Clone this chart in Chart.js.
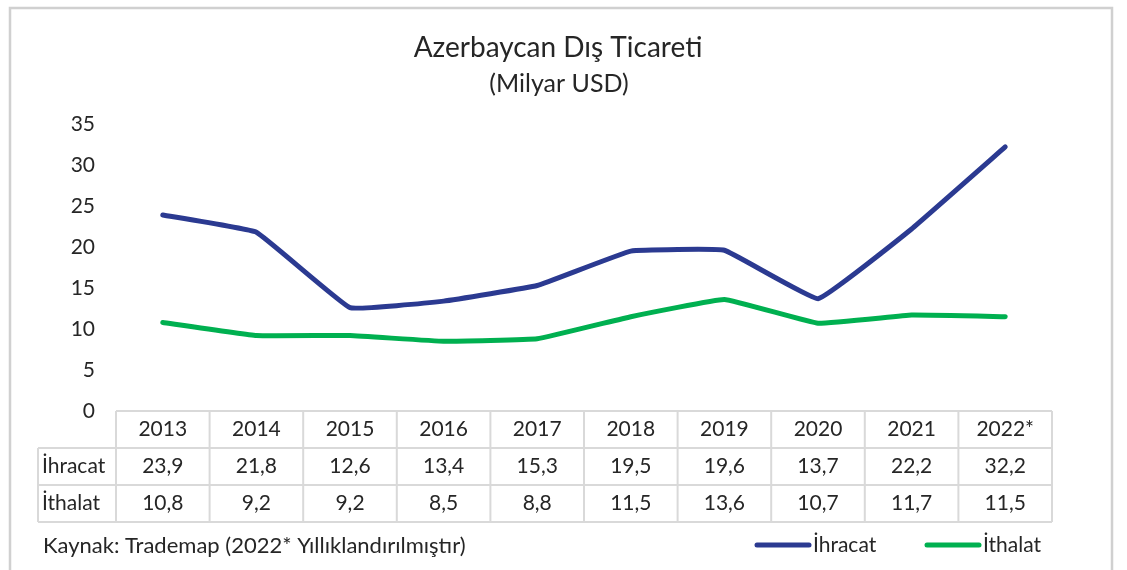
<!DOCTYPE html>
<html>
<head>
<meta charset="utf-8">
<script src="https://cdn.jsdelivr.net/npm/chart.js@4/dist/chart.umd.min.js"></script>
<style>
  html, body { margin: 0; padding: 0; background: #fff; }
  #wrap { width: 1127px; height: 570px; }
</style>
</head>
<body>
<div id="wrap"><canvas id="chart"></canvas></div>
<script>
const years = ["2013", "2014", "2015", "2016", "2017", "2018", "2019", "2020", "2021", "2022*"];
const ihracat = [23.9, 21.8, 12.6, 13.4, 15.3, 19.5, 19.6, 13.7, 22.2, 32.2];
const ithalat = [10.8, 9.2, 9.2, 8.5, 8.8, 11.5, 13.6, 10.7, 11.7, 11.5];
const seriesNames = ["İhracat", "İthalat"];
const titleText = "Azerbaycan Dış Ticareti";
const subtitleText = "(Milyar USD)";
const sourceText = "Kaynak: Trademap (2022* Yıllıklandırılmıştır)";

const FONT = "Lato, 'Open Sans', sans-serif";
const TEXT = "#262626";
const BLUE = "#2B3A91";
const GREEN = "#00B050";
const GRID = "#D9D9D9";

const fmt = (v) => v.toFixed(1).replace(".", ",");

// frame, titles, data table, source note and legend
const tablePlugin = {
  id: "excelTable",
  beforeDraw: (chart) => {
    const ctx = chart.ctx;
    ctx.save();
    ctx.fillStyle = "#fff";
    ctx.fillRect(0, 0, chart.width, chart.height);
    ctx.strokeStyle = "#D0D0D0";
    ctx.lineWidth = 2.5;
    ctx.strokeRect(10, 8, 1102, 600);
    ctx.restore();
  },
  afterDraw: (chart) => {
    const ctx = chart.ctx;
    const area = chart.chartArea;
    const x = chart.scales.x;
    const colW = area.width / years.length;
    const rowH = 37;
    const top = area.bottom;
    const labelLeft = 38;

    ctx.save();
    // titles
    ctx.fillStyle = TEXT;
    ctx.textAlign = "center";
    ctx.textBaseline = "middle";
    ctx.font = "28px " + FONT;
    ctx.fillText(titleText, 558, 48);
    ctx.font = "25px " + FONT;
    ctx.fillText(subtitleText, 559, 84);

    // table grid
    ctx.strokeStyle = GRID;
    ctx.lineWidth = 2;
    ctx.beginPath();
    ctx.moveTo(area.left, top);
    ctx.lineTo(area.right, top);
    for (let r = 1; r <= 3; r++) {
      ctx.moveTo(labelLeft, top + r * rowH);
      ctx.lineTo(area.right, top + r * rowH);
    }
    ctx.moveTo(labelLeft, top + rowH);
    ctx.lineTo(labelLeft, top + 3 * rowH);
    for (let c = 0; c <= years.length; c++) {
      const cx = area.left + c * colW;
      ctx.moveTo(cx, top);
      ctx.lineTo(cx, top + 3 * rowH);
    }
    ctx.stroke();

    // table text
    ctx.fillStyle = TEXT;
    ctx.font = "21px " + FONT;
    ctx.textAlign = "center";
    years.forEach((y, i) => {
      const cx = x.getPixelForValue(i);
      ctx.fillText(y, cx, top + rowH * 0.5);
      ctx.fillText(fmt(ihracat[i]), cx, top + rowH * 1.5);
      ctx.fillText(fmt(ithalat[i]), cx, top + rowH * 2.5);
    });
    ctx.textAlign = "left";
    ctx.fillText(seriesNames[0], labelLeft + 4, top + rowH * 1.5);
    ctx.fillText(seriesNames[1], labelLeft + 4, top + rowH * 2.5);

    // source note
    ctx.font = "22px " + FONT;
    ctx.fillText(sourceText, 43, 546);

    // legend
    const items = [
      { name: seriesNames[0], color: BLUE, x: 757 },
      { name: seriesNames[1], color: GREEN, x: 927 },
    ];
    ctx.font = "21px " + FONT;
    items.forEach((it) => {
      ctx.strokeStyle = it.color;
      ctx.lineWidth = 5;
      ctx.lineCap = "round";
      ctx.beginPath();
      ctx.moveTo(it.x, 545);
      ctx.lineTo(it.x + 52, 545);
      ctx.stroke();
      ctx.fillStyle = TEXT;
      ctx.fillText(it.name, it.x + 56, 545);
    });
    ctx.restore();
  },
};

new Chart(document.getElementById("chart").getContext("2d"), {
  type: "line",
  data: {
    labels: years,
    datasets: [
      {
        label: seriesNames[0],
        data: ihracat,
        borderColor: BLUE,
        backgroundColor: BLUE,
        borderWidth: 5,
        tension: 0.08,
        borderCapStyle: "round",
        borderJoinStyle: "round",
        fill: false,
      },
      {
        label: seriesNames[1],
        data: ithalat,
        borderColor: GREEN,
        backgroundColor: GREEN,
        borderWidth: 5,
        tension: 0.08,
        borderCapStyle: "round",
        borderJoinStyle: "round",
        fill: false,
      },
    ],
  },
  options: {
    responsive: true,
    maintainAspectRatio: false,
    animation: false,
    layout: {
      padding: { left: 30, right: 75, top: 124, bottom: 159 },
    },
    scales: {
      x: {
        display: false,
        offset: true,
      },
      y: {
        min: 0,
        max: 35,
        afterFit: (scale) => {
          scale.width = 86;
        },
        border: { display: false },
        grid: { display: false, drawTicks: false },
        ticks: {
          stepSize: 5,
          padding: 21,
          color: TEXT,
          font: { family: FONT, size: 21 },
        },
      },
    },
    plugins: {
      legend: { display: false },
      tooltip: { enabled: false },
    },
    elements: {
      point: { radius: 0, hoverRadius: 0 },
    },
  },
  plugins: [tablePlugin],
});
</script>
</body>
</html>
